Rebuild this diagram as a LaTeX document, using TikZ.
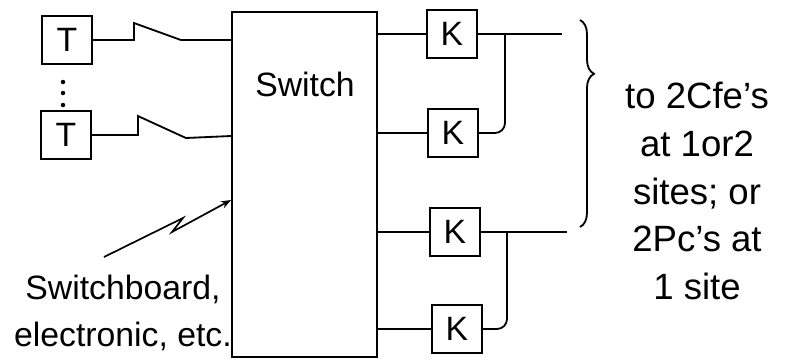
\documentclass[tikz,border=0pt]{standalone}
\usepackage{fontspec}
\setmainfont{Liberation Sans}
\usepackage{tikz}
\usetikzlibrary{arrows.meta,decorations.pathreplacing}

\begin{document}
\begin{tikzpicture}[
  x=0.025cm,y=-0.025cm,
  line width=1.3pt,
  unit/.style={draw,line width=1.3pt,inner sep=0pt,
               font=\fontsize{24}{28}\selectfont},
  tbox/.style={unit,minimum width=1.25cm,minimum height=1.18cm},
  kbox/.style={unit,minimum width=1.25cm,minimum height=1.2cm},
  note/.style={align=center,inner sep=0pt},
  ar/.style={-{Stealth[length=2.5mm]},line width=1.2pt}
]
\useasboundingbox (0,0) rectangle (785,363);

\node[tbox] (T1) at (67,40)  {T};
\node[tbox] (T2) at (66,135) {T};
\foreach \y in {82,93,105}
  \fill (63,\y) circle (1.6pt);

\node[draw,line width=1.3pt,minimum width=3.625cm,minimum height=8.625cm,
      inner sep=0pt] (sw) at (304.5,184.5) {};
\node[note,font=\fontsize{24}{28}\selectfont] (swlbl) at (305,84) {Switch};

\coordinate (in1) at (sw.west |- 0,40);
\coordinate (in2) at (sw.west |- 0,136);
\coordinate (in3) at (sw.west |- 0,200);
\draw (T1.east) -- ++(41,0) -- ++(0,-17) -- ++(47,17) -- (in1);
\draw (T2.east) -- ++(46,0) -- ++(0,-19) -- ++(48,22) -- (in2);
\coordinate (bolt) at (104,257);
\draw[ar] (bolt) -- (183,218) -- (172,232) -- (in3);
\node[note,font=\fontsize{24}{33}\selectfont] (swb) at (123,313)
  {Switchboard,\\electronic, etc.};

\node[kbox] (K1) at (452,34)  {K};
\node[kbox] (K2) at (453,133) {K};
\node[kbox] (K3) at (455,232) {K};
\node[kbox] (K4) at (457,329) {K};
\draw (sw.east |- K1.west) -- (K1.west);
\draw (sw.east |- K2.west) -- (K2.west);
\draw (sw.east |- K3.west) -- (K3.west);
\draw (sw.east |- K4.west) -- (K4.west);

\coordinate (out1) at (562,34);
\coordinate (out2) at (567,232);
\coordinate (j1) at (505,34);
\coordinate (j2) at (507,232);
\draw (K1.east) -- (out1);
\draw (K3.east) -- (out2);
\draw[rounded corners=0.25cm] (K2.east) -| (j1);
\draw[rounded corners=0.25cm] (K4.east) -| (j2);

\coordinate (brtop) at (580,20);
\coordinate (brbot) at (580,227);
\draw[decorate,decoration={brace,amplitude=0.35cm,aspect=0.26}] (brtop) -- (brbot);
\node[note,font=\fontsize{26}{34}\selectfont] (dest) at (697,191)
  {to 2Cfe's\\at 1or2\\sites; or\\2Pc's at\\1 site};
\end{tikzpicture}
\end{document}
